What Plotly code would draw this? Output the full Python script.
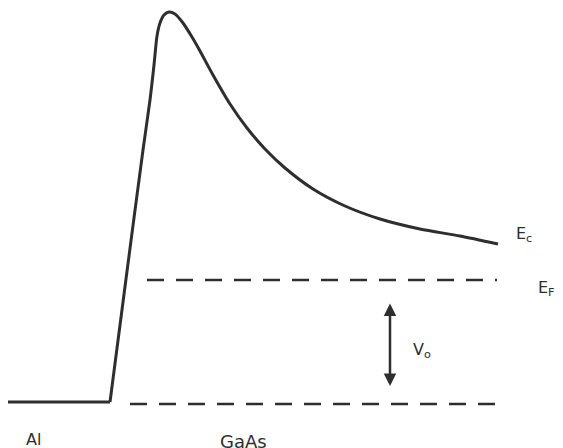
import plotly.graph_objects as go

# Band diagram (coordinates in image-like units: x right, y down)
metal_x = [8, 110]
metal_y = [402, 402]

ec_x = [110, 126, 143, 150, 154, 157, 160, 164, 169, 175, 183, 192, 200, 213, 230, 247, 265, 285, 313, 345, 380, 420, 460, 498]
ec_y = [402, 279, 150, 100, 65, 36, 23, 15, 12, 14, 23, 37, 51, 75, 104, 128, 149, 168, 189, 206, 219, 229, 236, 244]

ef_x = [147, 497]
ef_y = [280, 280]

base_x = [130, 500]
base_y = [404, 404]

arrow_x = 390
arrow_top = 302
arrow_bottom = 386

labels = ["E<sub>c</sub>", "E<sub>F</sub>", "V<sub>o</sub>", "Al", "GaAs"]
label_x = [514, 536, 411, 24, 218]
label_y = [234, 288, 350, 439, 441]
label_size = [16, 16, 16, 16, 18]

color = "#2e2e2e"

fig = go.Figure()
fig.add_trace(go.Scatter(x=metal_x, y=metal_y, mode="lines",
                         line=dict(color=color, width=3), hoverinfo="skip"))
fig.add_trace(go.Scatter(x=ec_x, y=ec_y, mode="lines", line_shape="spline",
                         line=dict(color=color, width=3, smoothing=0.7), hoverinfo="skip"))
fig.add_trace(go.Scatter(x=ef_x, y=ef_y, mode="lines",
                         line=dict(color=color, width=2.5, dash="17px,12px"), hoverinfo="skip"))
fig.add_trace(go.Scatter(x=base_x, y=base_y, mode="lines",
                         line=dict(color=color, width=2.5, dash="17px,12px"), hoverinfo="skip"))

fig.add_annotation(x=arrow_x, y=arrow_bottom, ax=arrow_x, ay=arrow_top,
                   xref="x", yref="y", axref="x", ayref="y",
                   showarrow=True, arrowhead=2, startarrowhead=2, arrowside="end+start",
                   arrowsize=1, arrowwidth=2.5, arrowcolor=color, text="")

for t, lx, ly, fs in zip(labels, label_x, label_y, label_size):
    fig.add_annotation(x=lx, y=ly, xref="x", yref="y", text=t, showarrow=False,
                       xanchor="left",
                       font=dict(family="DejaVu Sans", size=fs, color=color))

# the page body has an 8px margin; shift the figure so it aligns to the window
fig.update_layout(width=555, height=440, margin=dict(l=0, r=0, t=0, b=0),
                  paper_bgcolor="white", plot_bgcolor="white", showlegend=False)
fig.update_xaxes(range=[8, 563], visible=False, fixedrange=True)
fig.update_yaxes(range=[448, 8], visible=False, fixedrange=True)

fig.write_html("out.html")
